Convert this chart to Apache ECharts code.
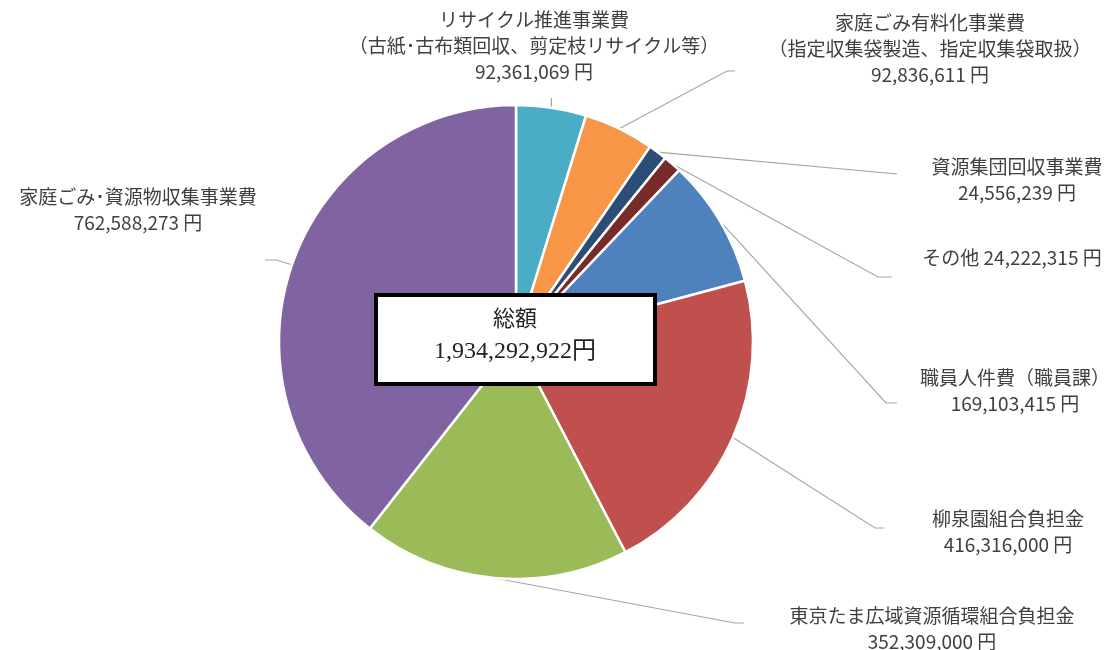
<!DOCTYPE html>
<html>
<head>
<meta charset="utf-8">
<script src="https://cdn.jsdelivr.net/npm/echarts@6/dist/echarts.min.js"></script>
<style>
  body { margin: 0; background: #fff; }
  #main { width: 1116px; height: 650px; }
</style>
</head>
<body>
<div id="main"></div>
<script>
// data
const names = [
  'リサイクル推進事業費\n（古紙･古布類回収、剪定枝リサイクル等）',
  '家庭ごみ有料化事業費\n（指定収集袋製造、指定収集袋取扱）',
  '資源集団回収事業費',
  'その他',
  '職員人件費（職員課）',
  '柳泉園組合負担金',
  '東京たま広域資源循環組合負担金',
  '家庭ごみ･資源物収集事業費'
];
const values = [92361069, 92836611, 24556239, 24222315, 169103415, 416316000, 352309000, 762588273];
const totalText = ['総額', '1,934,292,922円'];

const colors = ['#4BACC6', '#F79646', '#2C4D75', '#772C2A', '#4F81BD', '#C0504D', '#9BBB59', '#8064A2'];

// label placement: center of text block, leader line bend + end
const labelPos = [
  {x: 534, y: 46, line: [[551, 98]]},
  {x: 930, y: 49, line: [[727, 71], [735, 71]]},
  {x: 1017, y: 180, line: [[897, 174]]},
  {x: 1012, y: 258, line: [[878, 277], [892, 277]]},
  {x: 1015, y: 391, line: [[886, 403], [897, 403]]},
  {x: 1008, y: 532, line: [[875, 528], [884, 528]]},
  {x: 932, y: 629, line: [[735, 623], [744, 623]]},
  {x: 138, y: 210, line: [[276, 260], [265, 260]]}
];

const fmt = v => v.toLocaleString('en-US') + ' 円';

const chart = echarts.init(document.getElementById('main'));
chart.setOption({
  backgroundColor: '#fff',
  animation: false,
  color: colors,
  series: [{
    type: 'pie',
    center: [516, 342],
    radius: 237,
    startAngle: 90,
    clockwise: true,
    avoidLabelOverlap: false,
    emphasis: {disabled: true},
    itemStyle: {borderColor: '#fff', borderWidth: 2.5},
    label: {
      show: true,
      position: 'outside',
      color: '#404040',
      fontSize: 19,
      lineHeight: 26,
      fontFamily: '"Noto Sans CJK JP", "Noto Sans", sans-serif',
      formatter: p => p.name === 'その他' ? p.name + ' ' + fmt(p.value) : p.name + '\n' + fmt(p.value)
    },
    labelLine: {
      show: true,
      smooth: false,
      lineStyle: {color: '#A6A6A6', width: 1.2}
    },
    labelLayout: params => {
      const pos = labelPos[params.dataIndex];
      const p0 = params.labelLinePoints ? params.labelLinePoints[0] : [0, 0];
      let pts = [p0].concat(pos.line);
      if (params.dataIndex === 0) pts = [p0, [p0[0], pos.line[0][1]]];
      return {
        x: pos.x,
        y: pos.y,
        align: 'center',
        verticalAlign: 'middle',
        labelLinePoints: pts
      };
    },
    data: names.map((n, i) => ({name: n, value: values[i]}))
  }],
  graphic: [{
    type: 'rect',
    z: 100,
    shape: {x: 376, y: 295, width: 279, height: 89},
    style: {fill: '#fff', stroke: '#000', lineWidth: 4}
  }, {
    type: 'text',
    z: 101,
    x: 515,
    y: 320,
    style: {
      text: totalText[0],
      fill: '#222',
      font: '22px "Liberation Serif", "Noto Sans CJK JP", serif',
      align: 'center',
      verticalAlign: 'middle'
    }
  }, {
    type: 'text',
    z: 101,
    x: 515,
    y: 352,
    style: {
      text: totalText[1],
      fill: '#222',
      font: '24px "Liberation Serif", "Noto Sans CJK JP", serif',
      align: 'center',
      verticalAlign: 'middle'
    }
  }]
});
</script>
</body>
</html>
